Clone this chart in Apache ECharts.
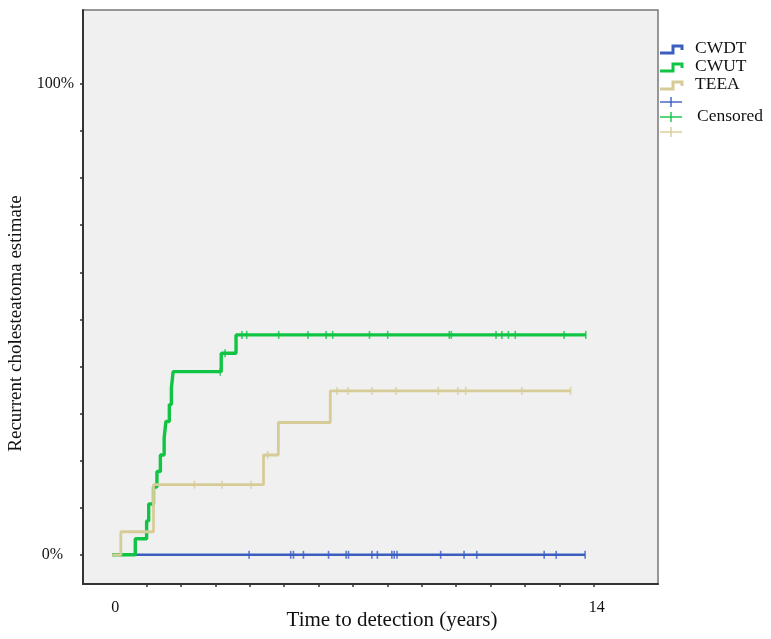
<!DOCTYPE html>
<html><head><meta charset="utf-8">
<script src="https://cdn.jsdelivr.net/npm/echarts@6/dist/echarts.min.js"></script>
<style>html,body{margin:0;padding:0;background:#fff}#c{width:771px;height:639px}</style>
</head><body><div id="c"></div>
<script>
// ---- data (years, cumulative % recurrence) ----
const groupNames = ['CWDT', 'CWUT', 'TEEA'];
const groupColors = ['#3b5ec0', '#12c444', '#d7cc98'];

const cwdtTimes  = [0, 13.75];
const cwdtValues = [0, 0];
const cwdtCensored = [3.98, 5.19, 5.27, 5.56, 6.29, 6.80, 6.87, 7.55, 7.71, 8.13, 8.20, 8.28, 9.55, 10.23, 10.60, 12.56, 12.91, 13.75];

const cwutTimes  = [0, 0.67, 1.00, 1.06, 1.20, 1.30, 1.40, 1.51, 1.56, 1.66, 1.72, 1.77, 3.17, 3.60, 13.77];
const cwutValues = [0, 3.4, 7.2, 10.8, 14.4, 17.7, 21.2, 24.8, 28.3, 31.9, 35.4, 38.9, 42.8, 46.7, 46.7];
const cwutCensored = [3.14, 3.28, 3.77, 3.91, 4.84, 5.69, 6.22, 6.41, 7.48, 8.01, 9.80, 9.86, 11.16, 11.33, 11.52, 11.72, 13.14, 13.77];

const teeaTimes  = [0, 0.25, 1.20, 4.40, 4.83, 6.34, 13.33];
const teeaValues = [0, 4.9, 14.9, 21.2, 28.1, 34.8, 34.8];
const teeaCensored = [2.39, 3.19, 4.04, 4.52, 6.54, 6.86, 7.55, 8.25, 9.48, 10.05, 10.28, 11.91, 13.33];

const xTickValues = [1,2,3,4,5,6,7,8,9,10,11,12,13,14];
const xLabelValues = [0, 14];
const yTickValues = [0,10,20,30,40,50,60,70,80,90,100];
const yLabelValues = [0, 100];

// ---- helpers ----
function valueAt(times, values, t) {
  let v = values[0];
  for (let i = 0; i < times.length; i++) if (times[i] <= t) v = values[i];
  return v;
}
const groups = [
  {times: cwdtTimes, values: cwdtValues, cens: cwdtCensored},
  {times: cwutTimes, values: cwutValues, cens: cwutCensored},
  {times: teeaTimes, values: teeaValues, cens: teeaCensored}
];
const lineWidths = [2.6, 3.4, 2.8];
const series = [];
groups.forEach((g, i) => {
  series.push({
    name: groupNames[i], type: 'line', step: 'end', symbol: 'none',
    data: g.times.map((t, k) => [t, g.values[k]]),
    lineStyle: {color: groupColors[i], width: lineWidths[i]},
    z: 2 + i * 2, silent: true
  });
});
groups.forEach((g, i) => {
  series.push({
    name: groupNames[i] + ' censored', type: 'scatter', symbol: 'rect',
    symbolSize: [1.6, 8],
    data: g.cens.map(t => [t, valueAt(g.times, g.values, t)]),
    itemStyle: {color: groupColors[i]},
    z: 3 + i * 2, silent: true
  });
});

// ---- legend drawn as graphics ----
const graphics = [];
const legendTop = [46, 64, 82];
groupNames.forEach((n, i) => {
  const y = legendTop[i];
  graphics.push({type: 'polyline', shape: {points: [[660, y + 7], [673, y + 7], [673, y], [682, y], [682, y + 4]]},
    style: {stroke: groupColors[i], lineWidth: 3, fill: null}});
  graphics.push({type: 'text', left: 695, top: y - 7,
    style: {text: n, font: '17.5px "Liberation Serif"', fill: '#111'}});
});
const plusY = [102, 117, 132];
plusY.forEach((y, i) => {
  graphics.push({type: 'line', shape: {x1: 660, y1: y, x2: 682, y2: y}, style: {stroke: groupColors[i], lineWidth: 1.4}});
  graphics.push({type: 'line', shape: {x1: 671, y1: y - 5, x2: 671, y2: y + 5}, style: {stroke: groupColors[i], lineWidth: 1.4}});
});
graphics.push({type: 'text', left: 697, top: 107, style: {text: 'Censored', font: '17.5px "Liberation Serif"', fill: '#111'}});

const chart = echarts.init(document.getElementById('c'), null, {renderer: 'canvas'});
chart.setOption({
  backgroundColor: '#ffffff',
  animation: false,
  grid: {left: 83, top: 10, right: 113, bottom: 55, show: true, containLabel: false, outerBoundsMode: 'none',
    backgroundColor: '#f0f0f0', borderColor: '#777', borderWidth: 1.5},
  xAxis: {
    type: 'value', min: -0.85, max: 15.87,
    name: 'Time to detection (years)', nameLocation: 'middle', nameGap: 26, nameMoveOverlap: false,
    nameTextStyle: {fontFamily: 'Liberation Serif', fontSize: 21, color: '#111', padding: [0, 0, 0, 43]},
    axisLine: {onZero: false, lineStyle: {color: '#333', width: 2}},
    axisTick: {show: true, customValues: xTickValues, length: 3, lineStyle: {color: '#333', width: 1.5}},
    axisLabel: {show: true, customValues: xLabelValues, margin: 16,
      fontFamily: 'Liberation Serif', fontSize: 16, color: '#111', padding: [0, 0, 0, 6]},
    splitLine: {show: false}
  },
  yAxis: {
    type: 'value', min: -6.2, max: 115.7,
    name: 'Recurrent cholesteatoma estimate', nameLocation: 'middle', nameGap: 57, nameMoveOverlap: false,
    nameTextStyle: {fontFamily: 'Liberation Serif', fontSize: 19, color: '#111', padding: [0, 53, 0, 0]},
    axisLine: {onZero: false, lineStyle: {color: '#333', width: 2}},
    axisTick: {show: true, customValues: yTickValues, length: 3, lineStyle: {color: '#333', width: 1.5}},
    axisLabel: {show: true, customValues: yLabelValues, margin: 9,
      formatter: v => v === 0 ? '{z|0%}' : '{h|100%}',
      rich: {z: {fontFamily: 'Liberation Serif', fontSize: 16, color: '#111', padding: [0, 11, 0, 0]},
             h: {fontFamily: 'Liberation Serif', fontSize: 16, color: '#111'}}},
    splitLine: {show: false}
  },
  series: series,
  graphic: graphics
});
</script>
</body></html>
